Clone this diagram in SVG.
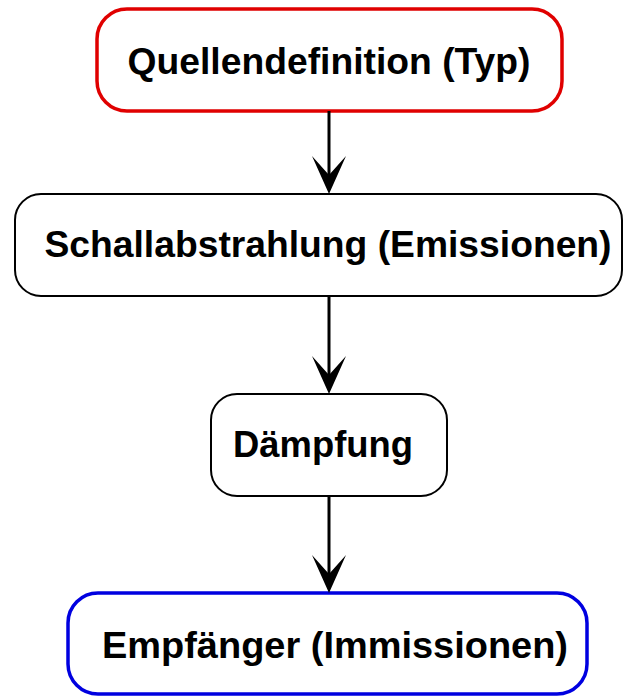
<svg xmlns="http://www.w3.org/2000/svg" width="625" height="698" viewBox="0 0 625 698">
<style>
.box{fill:#fff;stroke:#000;stroke-width:2}
.lbl{font-family:"Liberation Sans",Arial,sans-serif;font-weight:bold;font-size:36.5px;fill:#000;text-anchor:middle}
.conn line{stroke:#000;stroke-width:3}
.conn path{fill:#000}
</style>
<rect width="625" height="698" fill="#fff"/>
<g id="quelle">
<rect x="97" y="9" width="465" height="102" rx="30" class="box" style="stroke:#e00000;stroke-width:3.5"/>
<text x="329" y="74" class="lbl" textLength="403" lengthAdjust="spacingAndGlyphs">Quellendefinition (Typ)</text>
</g>
<g id="schall">
<rect x="15" y="194" width="607" height="102" rx="26" class="box"/>
<text x="328" y="257" class="lbl" textLength="567" lengthAdjust="spacingAndGlyphs">Schallabstrahlung (Emissionen)</text>
</g>
<g id="daempfung">
<rect x="211" y="394" width="236" height="102" rx="26" class="box"/>
<text x="323" y="457" class="lbl" textLength="180" lengthAdjust="spacingAndGlyphs">Dämpfung</text>
</g>
<g id="empfaenger">
<rect x="68" y="593" width="519" height="101" rx="30" class="box" style="stroke:#0000e0;stroke-width:3.5"/>
<text x="335" y="658" class="lbl" textLength="466" lengthAdjust="spacingAndGlyphs">Empfänger (Immissionen)</text>
</g>
<g class="conn">
<line x1="329" y1="111" x2="329" y2="178"/>
<path d="M329,194 L312,156 L329,175 L346,156 Z"/>
<line x1="329" y1="296" x2="329" y2="378"/>
<path d="M329,394 L312,356 L329,375 L346,356 Z"/>
<line x1="329" y1="496" x2="329" y2="577"/>
<path d="M329,593 L312,555 L329,574 L346,555 Z"/>
</g>
</svg>
